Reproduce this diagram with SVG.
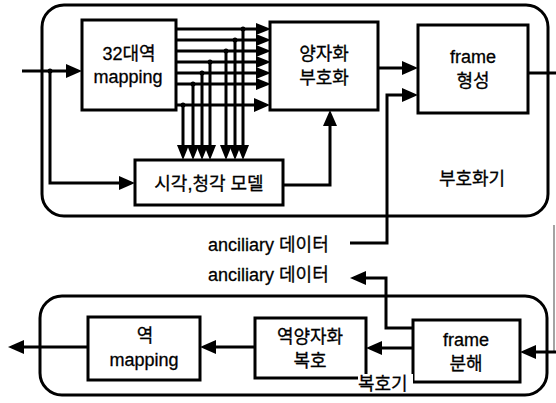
<svg xmlns="http://www.w3.org/2000/svg" width="556" height="403" viewBox="0 0 556 403">
<style>
.box{fill:#fff;stroke:#000;stroke-width:3}
.frame{fill:none;stroke:#000;stroke-width:3}
.ln{fill:none;stroke:#000;stroke-width:3}
.bus{fill:none;stroke:#000;stroke-width:3}
text{font-family:"Liberation Sans","Noto Sans CJK KR",sans-serif;font-size:18px;fill:#000;stroke:#000;stroke-width:0.3}
.c{text-anchor:middle}
</style>
<defs>
<marker id="ah" viewBox="0 0 16 14" markerWidth="16" markerHeight="14" refX="8" refY="7" markerUnits="userSpaceOnUse" orient="auto"><path d="M0,0 L16,7 L0,14 z" fill="#000"/></marker>
<marker id="ahs" viewBox="0 0 15 12" markerWidth="15" markerHeight="12" refX="7" refY="6" markerUnits="userSpaceOnUse" orient="auto"><path d="M0,0 L15,6 L0,12 z" fill="#000"/></marker>
</defs>
<g id="encoder">
<rect class="frame" x="42" y="5" width="506" height="211" rx="22"/>
<text class="c" x="472" y="185">부호화기</text>
</g>
<g id="mapping32">
<rect class="box" x="82" y="20" width="94" height="90"/>
<text class="c" x="129" y="60">32대역</text>
<text class="c" x="128" y="83">mapping</text>
</g>
<g id="quant">
<rect class="box" x="270" y="22" width="108" height="88"/>
<text class="c" x="324" y="60">양자화</text>
<text class="c" x="324" y="84">부호화</text>
</g>
<g id="frameform">
<rect class="box" x="418" y="25" width="110" height="88"/>
<text class="c" x="473" y="63">frame</text>
<text class="c" x="473" y="87">형성</text>
</g>
<g id="model">
<rect class="box" x="135" y="160" width="148" height="45"/>
<text class="c" x="209" y="190">시각,청각 모델</text>
</g>
<g id="anc-in"><text x="208" y="251">anciliary 데이터</text></g>
<g id="anc-out"><text x="208" y="281">anciliary 데이터</text></g>
<g id="decoder">
<rect class="frame" x="40" y="296" width="507" height="99" rx="22"/>
</g>
<g id="invmapping">
<rect class="box" x="88" y="317" width="112" height="63"/>
<text class="c" x="145" y="342">역</text>
<text class="c" x="144" y="366">mapping</text>
</g>
<g id="dequant">
<rect class="box" x="255" y="318" width="111" height="60"/>
<text class="c" x="310" y="343">역양자화</text>
<text class="c" x="310" y="367">복호</text>
</g>
<g id="framesplit">
<rect class="box" x="413" y="320" width="107" height="62"/>
<text class="c" x="466" y="346">frame</text>
<text class="c" x="466" y="370">분해</text>
</g>
<g id="declabel">
<rect x="358" y="374" width="55" height="19" fill="#fff"/>
<text x="358" y="390">복호기</text>
</g>
<g id="connectors">
<path class="ln" d="M22,71 L74,71" marker-end="url(#ah)"/>
<path class="ln" d="M50,71 L50,183 L127,183" marker-end="url(#ah)"/>
<path class="bus" d="M176,29 L263,29" marker-end="url(#ahs)"/>
<path class="bus" d="M176,40 L263,40" marker-end="url(#ahs)"/>
<path class="bus" d="M176,51 L263,51" marker-end="url(#ahs)"/>
<path class="bus" d="M176,62 L263,62" marker-end="url(#ahs)"/>
<path class="bus" d="M176,73 L263,73" marker-end="url(#ahs)"/>
<path class="bus" d="M176,84 L263,84" marker-end="url(#ahs)"/>
<path class="ln" d="M176,105 L262,105" marker-end="url(#ah)"/>
<path class="bus" d="M243,29 L243,152" marker-end="url(#ahs)"/>
<path class="bus" d="M235,40 L235,152" marker-end="url(#ahs)"/>
<path class="bus" d="M226,51 L226,152" marker-end="url(#ahs)"/>
<path class="bus" d="M210,62 L210,152" marker-end="url(#ahs)"/>
<path class="bus" d="M202,73 L202,152" marker-end="url(#ahs)"/>
<path class="bus" d="M193,84 L193,152" marker-end="url(#ahs)"/>
<path class="bus" d="M183,105 L183,152" marker-end="url(#ahs)"/>
<g fill="#000">
<circle cx="50" cy="71" r="2.5"/>
<circle cx="243" cy="29" r="2.5"/>
<circle cx="235" cy="40" r="2.5"/>
<circle cx="226" cy="51" r="2.5"/>
<circle cx="210" cy="62" r="2.5"/>
<circle cx="202" cy="73" r="2.5"/>
<circle cx="193" cy="84" r="2.5"/>
<circle cx="183" cy="105" r="2.5"/>
</g>
<path class="ln" d="M283,185 L330,185 L330,118" marker-end="url(#ah)"/>
<path class="ln" d="M378,68 L410,68" marker-end="url(#ah)"/>
<path class="ln" d="M350,243 L387,243 L387,95 L410,95" marker-end="url(#ah)"/>
<path class="ln" d="M528,73 L556,73"/>
<path fill="none" stroke="#666" stroke-width="1.2" d="M554,225 L554,352"/>
<path class="ln" d="M556,352 L528,352" marker-end="url(#ah)"/>
<path class="ln" d="M413,348 L374,348" marker-end="url(#ah)"/>
<path class="ln" d="M255,347 L208,347" marker-end="url(#ah)"/>
<path class="ln" d="M88,347 L16,347" marker-end="url(#ah)"/>
<path class="ln" d="M413,328 L386,328 L386,278 L358,278" marker-end="url(#ah)"/>
</g>
</svg>
